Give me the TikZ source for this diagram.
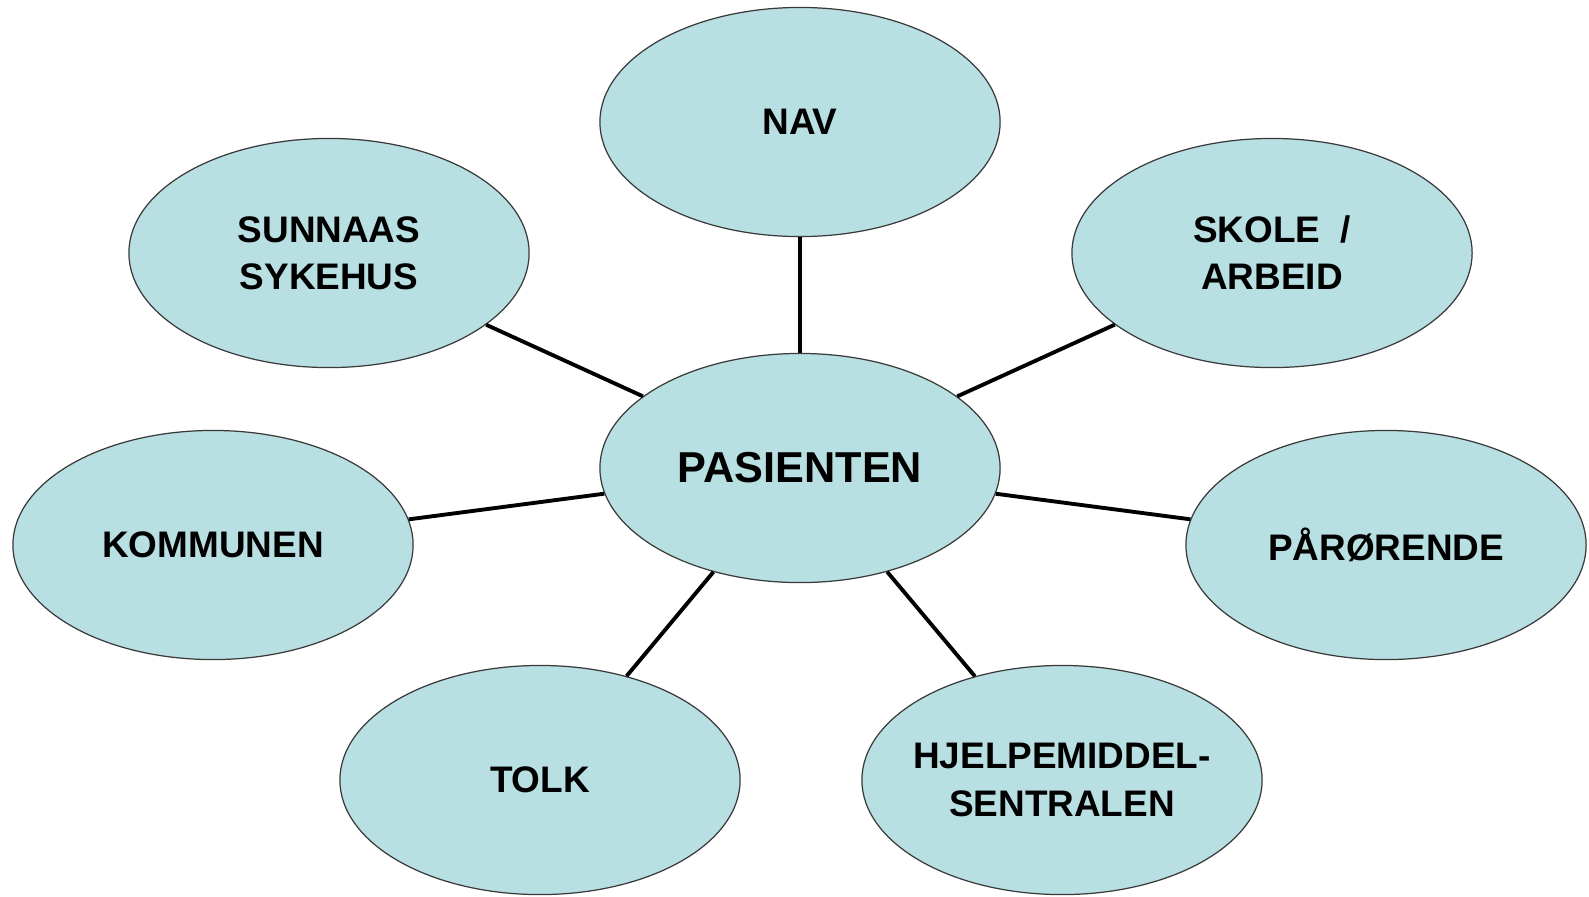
\documentclass[tikz,border=0pt]{standalone}
\usepackage{fontspec}
\setmainfont{Liberation Sans}
\usepackage{tikz}
\usetikzlibrary{shapes.geometric}
\usepackage{xcolor}
\definecolor{bubblefill}{HTML}{B8DFE2}
\definecolor{bubbleedge}{HTML}{3A3A3A}

\begin{document}
\begin{tikzpicture}[x=0.01cm, y=0.01cm,
  bubble/.style={ellipse, draw=bubbleedge, line width=0.35pt, fill=bubblefill,
    minimum width=4cm, minimum height=2.29cm, inner sep=0pt,
    font=\fontsize{10.5}{13.4}\selectfont\bfseries, align=center},
  link/.style={line width=1.1pt, black}]
\useasboundingbox (0,0) rectangle (1589,-896);
% centre
\node[bubble, font=\fontsize{12.3}{15}\selectfont\bfseries] (pas) at (800,-468) {PASIENTEN};
% around
\node[bubble] (nav) at (800,-122) {NAV};
\node[bubble] (sunnaas) at (329,-253) {SUNNAAS\\SYKEHUS};
\node[bubble] (skole) at (1272,-253) {SKOLE \ /\\ARBEID};
\node[bubble] (kommune) at (213,-545) {KOMMUNEN};
\node[bubble] (paaroer) at (1386,-545) {PÅRØRENDE};
\node[bubble] (tolk) at (540,-780) {TOLK};
\node[bubble, inner xsep=-0.2cm] (hjelp) at (1062,-780) {HJELPEMIDDEL-\\SENTRALEN};
% links
\foreach \n in {nav,sunnaas,skole,kommune,paaroer,tolk,hjelp}
  \draw[link] (pas) -- (\n);
\end{tikzpicture}
\end{document}
